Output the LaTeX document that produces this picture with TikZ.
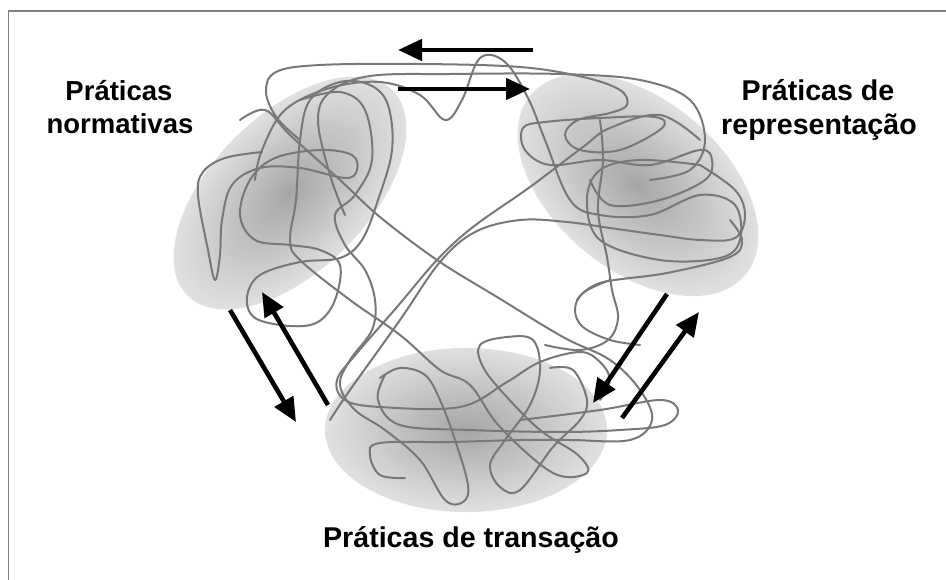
\documentclass[tikz,border=0pt]{standalone}
\usepackage{fontspec}
\setmainfont{Liberation Sans}
\usetikzlibrary{arrows.meta}
\newcommand\myblob[5]{%
  \foreach \i in {0,...,45}{%
    \pgfmathsetmacro\tt{\i/46}%
    \pgfmathsetmacro\rr{1-\tt}%
    \pgfmathsetmacro\cc{12+23*\tt}%
    \fill[black!\cc, rotate around={#5:(#1,#2)}] (#1,#2) ellipse [x radius={#3*\rr}, y radius={#4*\rr}];
  }}
\begin{document}
\begin{tikzpicture}[x=1pt,y=-1pt,
  wire/.style={draw=black!53, line width=2pt, line join=round, line cap=round},
  bigarrow/.style={line width=4.6pt, -{Triangle[length=24pt,width=21pt]}},
  lbl/.style={font=\fontsize{27.5}{33}\selectfont\bfseries, anchor=base, inner sep=0pt},
  lblbig/.style={lbl, font=\fontsize{28.6}{33}\selectfont\bfseries}]
\useasboundingbox (0,0) rectangle (946,580);
\fill[white] (0,0) rectangle (946,580);
\draw[black!50, line width=1.5pt] (8.5,580) -- (8.5,11) -- (946,11);

% shaded regions
\myblob{290}{193}{145}{78}{45}
\myblob{638}{185}{140}{85}{-40}
\myblob{466}{430}{141}{82}{0}

% tangled string
\draw[wire] plot[smooth, tension=0.6] coordinates {(300,140) (277,118) (266,92) (276,72) (320,65) (420,64) (520,67) (583,77) (620,90) (627,105) (610,113) (578,120) (565,135) (580,150) (620,150) (662,128) (655,117) (600,118) (545,122) (523,128) (525,150) (550,165) (600,160) (650,165) (700,150) (712,160) (705,180) (660,200) (610,205) (590,180)};
\draw[wire] plot[smooth, tension=0.6] coordinates {(255,180) (262,150) (285,110) (330,88) (380,82) (420,95) (445,120) (462,100) (480,58) (505,62) (528,98) (545,140) (570,200) (600,215) (650,215) (700,195) (735,205) (740,240) (720,258) (660,260) (600,240) (587,200) (600,170) (640,160) (700,165)};
\draw[wire] plot[smooth, tension=0.6] coordinates {(345,215) (330,175) (318,120) (330,92) (370,76) (450,74) (560,74) (640,80) (690,100) (705,140) (690,170) (650,180)};
\draw[wire] plot[smooth, tension=0.6] coordinates {(240,120) (265,110) (290,135) (340,180) (380,217) (437,260) (497,297) (563,337) (610,360) (640,390) (652,420) (630,440) (570,440) (520,440) (450,442) (380,443) (370,455) (380,475) (405,478)};
\draw[wire] plot[smooth, tension=0.6] coordinates {(700,140) (660,115) (610,128) (583,147) (530,187) (473,227) (437,260) (397,307) (357,353) (337,380) (345,400) (380,407) (460,407) (507,382) (540,362) (580,352) (600,362) (610,380) (600,400)};
\draw[wire] plot[smooth, tension=0.6] coordinates {(330,420) (350,390) (400,320) (440,262) (475,232) (520,220) (567,222) (610,228) (660,235) (700,240) (735,238) (745,215) (735,190) (700,165)};
\draw[wire] plot[smooth, tension=0.6] coordinates {(300,100) (340,92) (365,110) (372,160) (355,195) (335,215) (345,245) (365,270) (375,300) (372,330) (350,360) (340,385) (355,410) (385,430) (420,460) (445,500) (463,502) (468,485) (455,440) (440,400) (425,375) (400,368) (380,378)};
\draw[wire] plot[smooth, tension=0.6] coordinates {(262,152) (225,158) (203,172) (198,195) (208,250) (215,280) (220,255) (222,220) (232,185) (260,168) (300,168) (345,178) (357,170) (352,155) (320,150) (275,158) (250,180) (240,215) (255,240) (290,245) (320,250) (340,265) (335,300) (318,322) (290,326) (255,318) (247,297) (260,275) (300,262) (340,258) (362,240) (378,200) (392,150) (388,105) (370,85) (340,82) (310,100) (300,140) (296,200) (290,240) (300,260) (350,300) (400,335) (440,370) (470,385) (500,427) (553,473) (587,473) (578,455) (540,430) (505,395) (483,367) (480,345) (507,337) (533,340) (540,370) (530,405) (505,440) (490,465) (500,487) (520,490) (553,447) (580,420) (587,400) (573,370) (550,368)};
\draw[wire] plot[smooth, tension=0.6] coordinates {(520,420) (600,410) (660,400) (678,410) (665,425) (620,430) (560,432) (470,430) (400,425) (378,400) (385,375)};
\draw[wire] plot[smooth, tension=0.6] coordinates {(610,280) (583,293) (575,310) (583,327) (610,340) (640,345)};
\draw[wire] plot[smooth, tension=0.6] coordinates {(577,300) (600,283) (667,273) (730,257) (742,240) (730,220)};
\draw[wire] plot[smooth, tension=0.6] coordinates {(600,120) (603,160) (598,210) (607,257) (612,290) (618,318) (608,340) (580,350) (545,345)};

% arrows
\coordinate (a1s) at (533,50);  \coordinate (a1e) at (398,50);
\coordinate (a2s) at (398,89);  \coordinate (a2e) at (530,89);
\coordinate (a3s) at (230,310); \coordinate (a3e) at (296,422);
\coordinate (a4s) at (328,405); \coordinate (a4e) at (262,292);
\coordinate (a5s) at (667,294); \coordinate (a5e) at (593,403);
\coordinate (a6s) at (622,418); \coordinate (a6e) at (699,312);
\draw[bigarrow] (a1s) -- (a1e);
\draw[bigarrow] (a2s) -- (a2e);
\draw[bigarrow] (a3s) -- (a3e);
\draw[bigarrow] (a4s) -- (a4e);
\draw[bigarrow] (a5s) -- (a5e);
\draw[bigarrow] (a6s) -- (a6e);

% labels
\node[lbl] (n1) at (119,101) {Práticas};
\node[lbl] (n2) at (120,134) {normativas};
\node[lblbig] (r1) at (818,101) {Práticas de};
\node[lblbig] (r2) at (819,135) {representação};
\node[lblbig] (t1) at (471,547) {Práticas de transação};
\end{tikzpicture}
\end{document}
